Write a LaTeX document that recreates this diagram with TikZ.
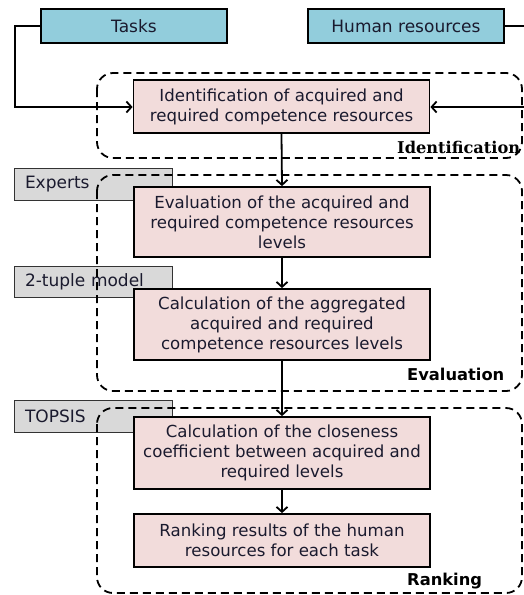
\documentclass[tikz,border=0pt]{standalone}
\usepackage{fontspec}
\setmainfont{DejaVu Sans}
\newfontfamily\serifbold{DejaVu Serif}
\usetikzlibrary{arrows.meta}
\definecolor{taskblue}{HTML}{92CDDC}
\definecolor{steppink}{HTML}{F2DCDB}
\definecolor{toolgray}{HTML}{D9D9D9}
\definecolor{txt}{HTML}{1A1A2E}
\begin{document}
\begin{tikzpicture}[x=1pt,y=-1pt,
  inbox/.style={draw=black, line width=1.8pt, fill=taskblue, text=txt, minimum height=34pt, inner sep=0pt, font=\fontsize{17}{20}\selectfont},
  stepbox/.style={draw=black, line width=1.8pt, fill=steppink, text=txt, minimum width=296pt, inner sep=0pt, align=center, font=\fontsize{16.6}{20}\selectfont},
  toolbox/.style={draw=black!80, line width=1pt, fill=toolgray, text=txt, minimum width=158pt, minimum height=32pt, inner sep=0pt, text width=136pt, align=left, font=\fontsize{17}{20}\selectfont},
  region/.style={draw=black, line width=1.8pt, dash pattern=on 8pt off 5pt, rounded corners=16pt},
  phase/.style={anchor=west, inner sep=0pt, font=\fontsize{16.3}{18}\selectfont\bfseries},
  flow/.style={draw=black, line width=1.8pt, -{Straight Barb[length=5pt,width=11pt,line width=1.8pt]}}
]
\useasboundingbox (0,0) rectangle (523,595);
% tool boxes (behind)
\node[toolbox] (experts) at (93,184) {Experts};
\node[toolbox, minimum height=31pt] (tuple) at (93,281.5) {2-tuple model};
\node[toolbox] (topsis) at (93,416) {TOPSIS};
% regions
\draw[region] (97,73) rectangle (522,158);
\draw[region] (97,175) rectangle (522,391);
\draw[region] (97,408) rectangle (522,593);
% inputs
\node[inbox, minimum width=186pt] (tasks) at (134,26) {Tasks};
\node[inbox, minimum width=196pt] (hr) at (406,26) {Human resources};
% steps
\node[stepbox, minimum height=53pt] (ident) at (281.5,106.5) {Identification of acquired and\\required competence resources};
\node[stepbox, minimum height=70pt] (eval) at (282,222) {Evaluation of the acquired and\\required competence resources\\levels};
\node[stepbox, minimum height=71pt] (calc) at (282,324.5) {Calculation of the aggregated\\acquired and required\\competence resources levels};
\node[stepbox, minimum height=72pt] (close) at (282,453) {Calculation of the closeness\\coefficient between acquired and\\required levels};
\node[stepbox, minimum height=53pt] (rank) at (282,540.5) {Ranking results of the human\\resources for each task};
% labels
\node[phase, font=\fontsize{16.2}{18}\selectfont\serifbold\bfseries] (lid) at (397,147) {Identification};
\node[phase] (lev) at (407,374) {Evaluation};
\node[phase] (lra) at (407,581) {Ranking};
% connectors
\coordinate (tl) at (15,26);
\coordinate (tb) at (15,107);
\coordinate (hrr) at (530,26);
\coordinate (hrb) at (530,107);
\draw[flow] (tasks.west) -- (tl) -- (tb) -- (ident.west |- tb);
\draw[flow] (hr.east) -- (hrr) -- (hrb) -- (ident.east |- hrb);
\draw[flow] (ident.south) -- (eval.north);
\draw[flow] (eval.south) -- (calc.north);
\draw[flow] (calc.south) -- (close.north);
\draw[flow] (close.south) -- (rank.north);
\end{tikzpicture}
\end{document}
